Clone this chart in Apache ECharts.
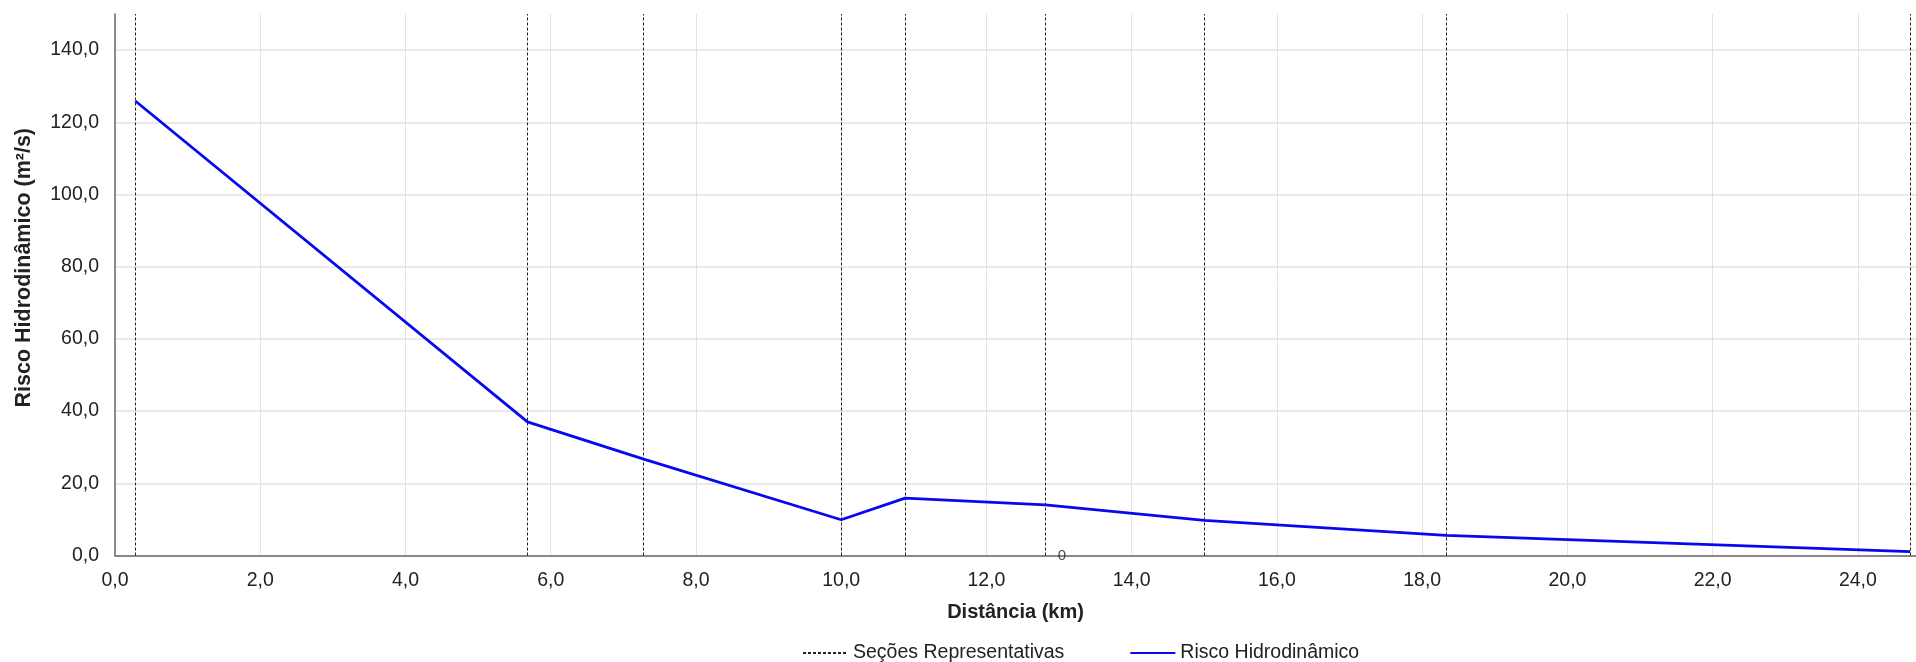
<!DOCTYPE html>
<html>
<head>
<meta charset="utf-8">
<script src="https://cdn.jsdelivr.net/npm/echarts@6/dist/echarts.min.js"></script>
<style>
html,body{margin:0;padding:0;background:#fff;}
#chart{width:1916px;height:662px;}
</style>
</head>
<body>
<div id="chart"></div>
<script>
// Data
const sectionKm = [0.28, 5.68, 7.28, 10.0, 10.88, 12.81, 15.0, 18.33, 24.72];
const riscoKm = [0.28, 5.68, 7.28, 10.0, 10.88, 12.81, 15.0, 18.33, 24.72];
const riscoValues = [125.9, 37.0, 26.7, 9.9, 15.9, 14.0, 9.75, 5.6, 1.05];
const annotationKm = [12.81];
const annotationValues = [0];
const annotationTexts = ['0'];

const seriesNames = ['Seções Representativas', 'Risco Hidrodinâmico'];
const xTitle = 'Distância (km)';
const yTitle = 'Risco Hidrodinâmico (m²/s)';

const FONT = "'Liberation Sans', Arial, sans-serif";
const fmt = v => v.toFixed(1).replace('.', ',');

const chart = echarts.init(document.getElementById('chart'), null, {renderer: 'canvas'});
chart.setOption({
  animation: false,
  backgroundColor: '#ffffff',
  textStyle: {fontFamily: FONT},
  grid: {left: 115, right: 0, top: 14, bottom: 106.5, containLabel: false},
  legend: {
    left: 797, top: 638,
    itemWidth: 45, itemHeight: 14, itemGap: 65,
    itemStyle: {opacity: 0},
    textStyle: {fontFamily: FONT, fontSize: 19.5, color: '#222'},
    data: seriesNames
  },
  xAxis: {
    type: 'value', min: 0, max: 24.8, interval: 2,
    name: xTitle, nameLocation: 'middle', nameGap: 47,
    nameTextStyle: {fontFamily: FONT, fontSize: 20, fontWeight: 'bold', color: '#222'},
    axisLine: {show: true, lineStyle: {color: '#6a6a6a', width: 1.5}},
    axisTick: {show: false},
    axisLabel: {formatter: fmt, showMaxLabel: false, fontFamily: FONT, fontSize: 19.5, color: '#222', margin: 15},
    splitLine: {show: true, showMaxLine: false, lineStyle: {color: '#e3e3e3', width: 1}}
  },
  yAxis: {
    type: 'value', min: 0, max: 150, interval: 20,
    name: yTitle, nameLocation: 'middle', nameGap: 80, nameRotate: 90,
    nameTextStyle: {fontFamily: FONT, fontSize: 21.5, fontWeight: 'bold', color: '#222', padding: [0, 0, 0, 34]},
    axisLine: {show: true, lineStyle: {color: '#6a6a6a', width: 1.5}},
    axisTick: {show: false},
    axisLabel: {formatter: fmt, showMaxLabel: false, fontFamily: FONT, fontSize: 19.5, color: '#222', margin: 16},
    splitLine: {show: true, showMaxLine: false, lineStyle: {color: '#e3e3e3', width: 1.5}}
  },
  series: [
    {
      name: seriesNames[0],
      type: 'line',
      data: [],
      symbol: 'none',
      lineStyle: {color: '#222', width: 1, type: [3, 2]},
      itemStyle: {color: '#222'},
      markLine: {
        silent: true,
        symbol: 'none',
        label: {show: false},
        lineStyle: {color: '#222', width: 1, type: [3, 2]},
        data: sectionKm.map(x => ({xAxis: x}))
      }
    },
    {
      name: seriesNames[1],
      type: 'line',
      data: riscoKm.map((x, i) => [x, riscoValues[i]]),
      symbol: 'none',
      lineStyle: {color: '#0808ee', width: 2.8},
      itemStyle: {color: '#0808ee'},
      z: 5
    },
    {
      name: 'annot',
      type: 'scatter',
      data: annotationKm.map((x, i) => ({value: [x, annotationValues[i]], name: annotationTexts[i]})),
      symbolSize: 1,
      itemStyle: {color: 'transparent'},
      silent: true,
      label: {show: true, position: 'right', distance: 12, formatter: p => p.name,
              fontFamily: FONT, fontSize: 15, color: '#222'},
      z: 6
    }
  ]
});
</script>
</body>
</html>
